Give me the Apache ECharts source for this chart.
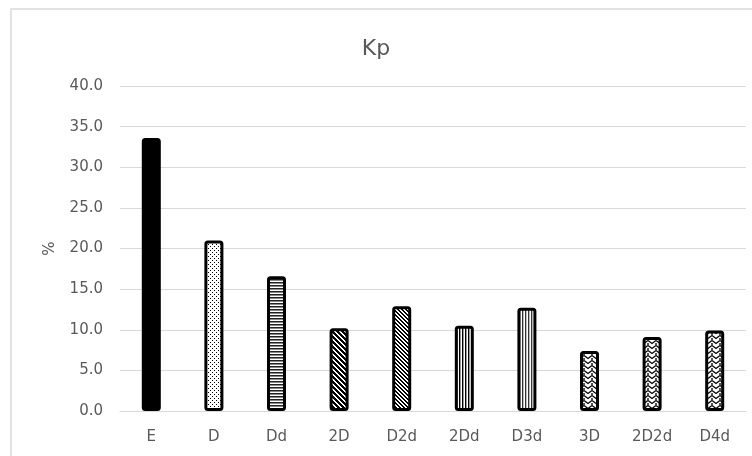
<!DOCTYPE html>
<html>
<head>
<meta charset="utf-8">
<script src="https://cdn.jsdelivr.net/npm/echarts@6/dist/echarts.min.js"></script>
<style>
html,body{margin:0;padding:0;background:#fff;}
#chart{width:752px;height:456px;}
</style>
</head>
<body>
<div id="chart"></div>
<script>
const categories = ['E','D','Dd','2D','D2d','2Dd','D3d','3D','2D2d','D4d'];
const values = [33.6, 21.0, 16.6, 10.2, 12.9, 10.5, 12.7, 7.4, 9.1, 9.9];
const patternNames = ['solid','dots','hlines','diagDark','diagLight','vlinesDark','vlinesLight','zigzag','zigzag','zigzag'];
const yTicks = { min: 0, max: 40, interval: 5 };

function makePattern(type) {
  const c = document.createElement('canvas');
  let ctx;
  switch (type) {
    case 'dots':
      c.width = 4; c.height = 4; ctx = c.getContext('2d');
      ctx.fillStyle = '#fff'; ctx.fillRect(0,0,4,4);
      ctx.fillStyle = '#000'; ctx.fillRect(0,0,1,1); ctx.fillRect(2,2,1,1);
      return c;
    case 'hlines':
      c.width = 4; c.height = 3; ctx = c.getContext('2d');
      ctx.fillStyle = '#fff'; ctx.fillRect(0,0,4,3);
      ctx.fillStyle = '#222'; ctx.fillRect(0,0,4,1);
      ctx.fillStyle = '#888'; ctx.fillRect(0,1,4,1);
      return c;
    case 'diagDark':
    case 'diagLight': {
      const n = type === 'diagDark' ? 5 : 4;
      const w = type === 'diagDark' ? 3 : 2;
      c.width = n; c.height = n; ctx = c.getContext('2d');
      ctx.fillStyle = '#fff'; ctx.fillRect(0,0,n,n);
      ctx.fillStyle = '#000';
      for (let y = 0; y < n; y++) {
        for (let k = 0; k < w; k++) {
          ctx.fillRect((y + k) % n, y, 1, 1);
        }
      }
      return c;
    }
    case 'vlinesDark':
      c.width = 3; c.height = 4; ctx = c.getContext('2d');
      ctx.fillStyle = '#999'; ctx.fillRect(0,0,3,4);
      ctx.fillStyle = '#000'; ctx.fillRect(0,0,1,4);
      ctx.fillStyle = '#fff'; ctx.fillRect(2,0,1,4);
      return c;
    case 'vlinesLight':
      c.width = 3; c.height = 4; ctx = c.getContext('2d');
      ctx.fillStyle = '#fff'; ctx.fillRect(0,0,3,4);
      ctx.fillStyle = '#333'; ctx.fillRect(0,0,1,4);
      ctx.fillStyle = '#bbb'; ctx.fillRect(1,0,1,4);
      return c;
    case 'zigzag': {
      c.width = 8; c.height = 5; ctx = c.getContext('2d');
      ctx.fillStyle = '#fff'; ctx.fillRect(0,0,8,5);
      ctx.strokeStyle = '#000'; ctx.lineWidth = 1.3;
      ctx.beginPath();
      ctx.moveTo(0,0.5); ctx.lineTo(4,3.5); ctx.lineTo(8,0.5);
      ctx.stroke();
      ctx.fillStyle = '#555';
      ctx.fillRect(0,3,1,2); ctx.fillRect(7,3,1,2);
      return c;
    }
  }
  return null;
}

const barData = values.map((v, i) => {
  const p = patternNames[i];
  return {
    value: v,
    itemStyle: {
      color: p === 'solid' ? '#000' : { image: makePattern(p), repeat: 'repeat' },
      borderColor: '#000',
      borderWidth: 3,
      borderRadius: 2
    }
  };
});

const chart = echarts.init(document.getElementById('chart'), null, { renderer: 'canvas' });
const font = 'DejaVu Sans';
chart.setOption({
  animation: false,
  backgroundColor: '#fff',
  textStyle: { fontFamily: font },
  title: {
    text: 'Kp', left: 'center', top: 33,
    textStyle: { fontFamily: font, fontSize: 22, fontWeight: 'normal', color: '#595959' }
  },
  graphic: [{
    type: 'rect', silent: true,
    shape: { x: 11, y: 9, width: 800, height: 500 },
    style: { fill: 'none', stroke: '#d9d9d9', lineWidth: 1.5 }
  }],
  grid: { left: 120, right: 6, top: 86, bottom: 45 },
  xAxis: {
    type: 'category', data: categories,
    axisLine: { lineStyle: { color: '#d9d9d9', width: 1 } },
    axisTick: { show: false },
    axisLabel: { color: '#595959', fontSize: 15, margin: 19, fontFamily: font }
  },
  yAxis: {
    type: 'value', min: yTicks.min, max: yTicks.max, interval: yTicks.interval,
    name: '%', nameLocation: 'middle', nameGap: 62, nameRotate: 90,
    nameTextStyle: { color: '#595959', fontSize: 15, fontFamily: font },
    axisLine: { show: false }, axisTick: { show: false },
    axisLabel: { color: '#595959', fontSize: 15, margin: 17, fontFamily: font, formatter: v => v.toFixed(1) },
    splitLine: { lineStyle: { color: '#d9d9d9', width: 1 } }
  },
  series: [{
    type: 'bar', data: barData, barWidth: 19
  }]
});
</script>
</body>
</html>
